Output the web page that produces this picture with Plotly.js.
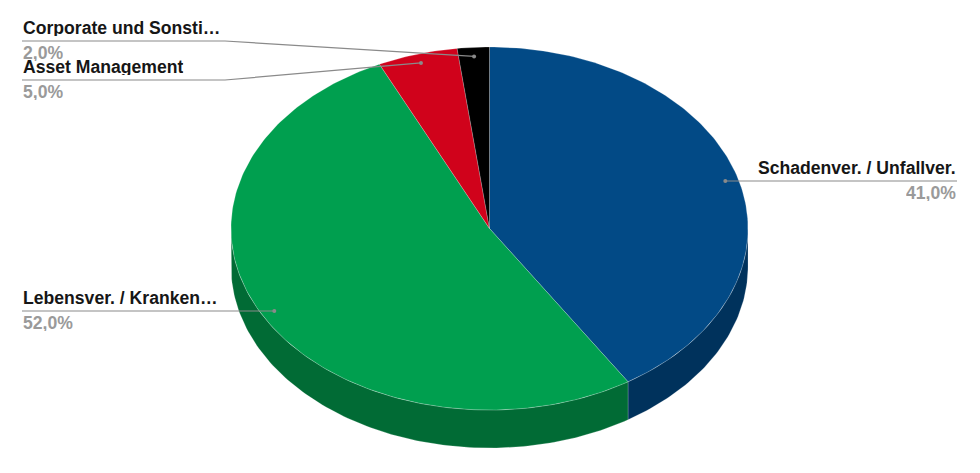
<!DOCTYPE html>
<html><head><meta charset="utf-8">
<script src="https://cdn.plot.ly/plotly-3.0.1.min.js"></script>
<style>html,body{margin:0;padding:0;background:#fff}#c{width:980px;height:473px}</style>
</head><body><div id="c"></div>
<script>
// ---- data ----
const labels = ["Schadenver. / Unfallver.", "Lebensver. / Kranken…", "Asset Management", "Corporate und Sonsti…"];
const values = [41, 52, 5, 2];
const topColors = ["#024a86", "#009f4f", "#d0021b", "#000000"];
const sideColors = ["#00325c", "#016b35", "#8c0012", "#000000"];

// ---- geometry (style) ----
const CX = 489.5, CY = 228.5, RX = 258.5, RY = 181.5, DEPTH = 38;
// label placement: side and y of leader line
const labelCfg = [
  {side: "right", lineY: 181, textX: 957, elbowX: null},
  {side: "left", lineY: 311, textX: 22, elbowX: null},
  {side: "left", lineY: 80, textX: 22, elbowX: 225},
  {side: "left", lineY: 41, textX: 22, elbowX: 225}
];

const rad = d => d * Math.PI / 180;
function pt(deg, r, dy) {
  return [CX + RX * r * Math.sin(rad(deg)), CY - RY * r * Math.cos(rad(deg)) + (dy || 0)];
}
function arc(a, b, dy) {
  const n = Math.max(2, Math.ceil(Math.abs(b - a) / 1));
  const xs = [], ys = [];
  for (let i = 0; i <= n; i++) {
    const p = pt(a + (b - a) * i / n, 1, dy);
    xs.push(p[0]); ys.push(p[1]);
  }
  return [xs, ys];
}

const total = values.reduce((s, v) => s + v, 0);
const traces = [];
const annotations = [];
let start = 0;
const slices = values.map((v, i) => {
  const a = start, b = start + v / total * 360;
  start = b;
  return {a, b, i};
});

// side faces
slices.forEach(s => {
  const lo = Math.max(s.a, 90), hi = Math.min(s.b, 270);
  if (hi <= lo) return;
  const [tx, ty] = arc(lo, hi, 0);
  const [bx, by] = arc(hi, lo, DEPTH);
  traces.push({
    type: "scatter", mode: "lines", x: tx.concat(bx, [tx[0]]), y: ty.concat(by, [ty[0]]),
    fill: "toself", fillcolor: sideColors[s.i],
    line: {color: "rgba(255,255,255,0.35)", width: 0.6}, hoverinfo: "skip", showlegend: false
  });
});
// top faces
slices.forEach(s => {
  const [ax, ay] = arc(s.a, s.b, 0);
  traces.push({
    type: "scatter", mode: "lines", x: [CX].concat(ax, [CX]), y: [CY].concat(ay, [CY]),
    fill: "toself", fillcolor: topColors[s.i],
    line: {color: "rgba(255,255,255,0.35)", width: 0.6}, hoverinfo: "skip", showlegend: false,
    name: labels[s.i]
  });
});

// leader lines and labels
const fontFam = "Liberation Sans, Arial, sans-serif";
const FS = 17.6;
slices.forEach(s => {
  const cfg = labelCfg[s.i];
  const mid = (s.a + s.b) / 2;
  const d = pt(mid, 0.95, 0);
  let xs, ys;
  if (cfg.elbowX !== null) {
    xs = [d[0], cfg.elbowX, cfg.textX];
    ys = [d[1], cfg.lineY, cfg.lineY];
  } else {
    xs = [d[0], cfg.textX];
    ys = [cfg.lineY, cfg.lineY];
    d[1] = cfg.lineY;
  }
  traces.push({
    type: "scatter", mode: "lines", x: xs, y: ys,
    line: {color: "#8a8a8a", width: 1.2}, hoverinfo: "skip", showlegend: false
  });
  traces.push({
    type: "scatter", mode: "markers", x: [d[0]], y: [d[1]],
    marker: {color: "#8a8a8a", size: 4}, hoverinfo: "skip", showlegend: false
  });
  const anchor = cfg.side === "right" ? "right" : "left";
  annotations.push({
    x: cfg.textX, y: cfg.lineY - 13, xref: "x", yref: "y", xanchor: anchor, yanchor: "middle",
    height: 16, valign: "middle",
    text: labels[s.i], showarrow: false, borderpad: 0,
    font: {family: fontFam, size: FS, color: "#161616", weight: "bold"}
  });
  annotations.push({
    x: cfg.textX, y: cfg.lineY + 12, xref: "x", yref: "y", xanchor: anchor, yanchor: "middle",
    height: 16, valign: "middle",
    text: (values[s.i] / total * 100).toFixed(1).replace(".", ",") + "%", showarrow: false, borderpad: 0,
    font: {family: fontFam, size: FS, color: "#9a9a9a", weight: "bold"}
  });
});

const layout = {
  width: 980, height: 473,
  margin: {l: 0, r: 0, t: 0, b: 0},
  paper_bgcolor: "#ffffff", plot_bgcolor: "#ffffff",
  xaxis: {range: [0, 980], visible: false, fixedrange: true},
  yaxis: {range: [473, 0], visible: false, fixedrange: true},
  showlegend: false,
  annotations: annotations
};
Plotly.newPlot("c", traces, layout, {displayModeBar: false, staticPlot: true});
</script>
</body></html>
